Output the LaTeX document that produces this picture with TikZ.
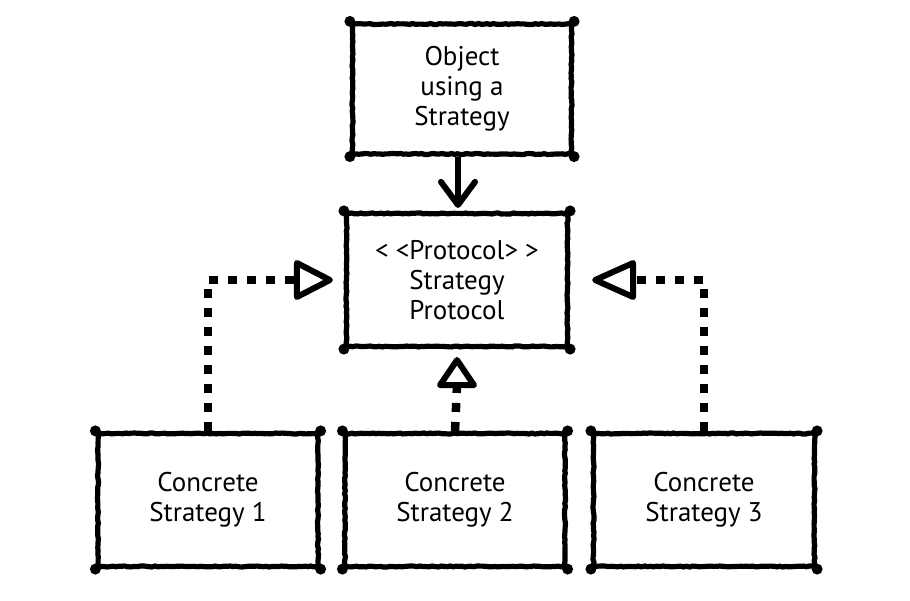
\documentclass[tikz,border=0pt]{standalone}
\usepackage{fontspec}
\setmainfont{PT Sans}
\usetikzlibrary{decorations.pathmorphing}
\begin{document}
\pgfmathsetseed{7}
\begin{tikzpicture}[x=1pt,y=-1pt,
  box/.style={draw, line width=5.2pt, minimum width=#1, align=center,
    font=\fontsize{27}{30}\selectfont,
    decorate, decoration={random steps, segment length=3pt, amplitude=0.5pt}},
  box/.default=219pt,
  dots/.style={line width=8.5pt, dash pattern=on 9pt off 10pt},
  tiphead/.style={line width=6pt, line join=round, line cap=round},
  shaft/.style={line width=5.5pt}]
\useasboundingbox (0,0) rectangle (910,601);

% client object and the protocol it depends on
\node[box, minimum height=130pt] (obj) at (462,89) {Object\\using a\\Strategy};
\node[box=221pt, minimum height=133pt] (proto) at (457,280)
  {<\hspace{7pt}<Protocol>\hspace{7pt}>\\Strategy\\Protocol};

% concrete implementations
\node[box=220pt, minimum height=133pt] (c1) at (208,500) {Concrete\\Strategy 1};
\node[box=220pt, minimum height=133pt] (c2) at (455,500) {Concrete\\Strategy 2};
\node[box=221pt, minimum height=133pt] (c3) at (704,500) {Concrete\\Strategy 3};

% corner blobs of the hand-drawn frames
\foreach \n in {obj,proto,c1,c2,c3}
  \foreach \a in {north west,north east,south west,south east}
    \fill (\n.\a) circle (5.5pt);

% association arrow with an open barb (yshift is in page units: + is up)
\coordinate (ua) at ([yshift=6pt]proto.north -| 458,0);
\draw[shaft] (obj.south -| ua) -- (ua);
\draw[tiphead] ([shift={(-17,-23)}]ua) -- (ua) -- ([shift={(17,-23)}]ua);

% realization connectors ending in hollow triangles
\coordinate (r1) at ([xshift=-14pt]proto.west);
\coordinate (r2) at ([yshift=-11pt]proto.south);
\coordinate (r3) at ([xshift=25pt]proto.east);

\draw[dots] (c1.north) |- ([xshift=-33pt]r1);
\draw[tiphead] (r1) -- ++(-33,-17) -- ++(0,34) -- cycle;

\draw[dots] (c2.north) -- ([yshift=-25pt]r2);
\draw[tiphead] (r2) -- ++(-17,25) -- ++(34,0) -- cycle;

\draw[dots] (c3.north) |- ([xshift=38pt]r3);
\draw[tiphead] (r3) -- ++(38,-17) -- ++(0,34) -- cycle;
\end{tikzpicture}
\end{document}
